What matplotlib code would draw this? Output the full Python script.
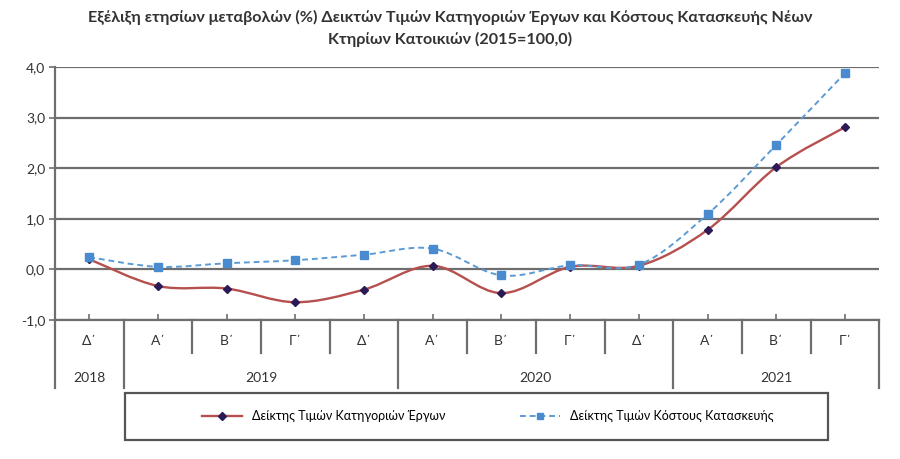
import numpy as np
import matplotlib
matplotlib.use("Agg")
import matplotlib.pyplot as plt
from matplotlib.path import Path
from matplotlib.patches import PathPatch, Rectangle
from matplotlib.lines import Line2D
import matplotlib.transforms as mtransforms

# data
quarters = ["Δ΄", "Α΄", "Β΄", "Γ΄", "Δ΄", "Α΄", "Β΄", "Γ΄", "Δ΄", "Α΄", "Β΄", "Γ΄"]
years = ["2018", "2019", "2020", "2021"]
year_spans = [(0, 1), (1, 5), (5, 9), (9, 12)]   # category index ranges per year
works_index = [0.20, -0.33, -0.38, -0.65, -0.40, 0.07, -0.47, 0.05, 0.07, 0.78, 2.02, 2.81]
cost_index = [0.24, 0.05, 0.12, 0.18, 0.29, 0.41, -0.12, 0.08, 0.09, 1.09, 2.46, 3.88]
yticks = [-1.0, 0.0, 1.0, 2.0, 3.0, 4.0]
ytick_labels = ["-1,0", "0,0", "1,0", "2,0", "3,0", "4,0"]
label_works = "Δείκτης Τιμών Κατηγοριών Έργων"
label_cost = "Δείκτης Τιμών Κόστους Κατασκευής"
title = ("Εξέλιξη ετησίων μεταβολών (%) Δεικτών Τιμών Κατηγοριών Έργων και Κόστους Κατασκευής Νέων\n"
         "Κτηρίων Κατοικιών (2015=100,0)")

plt.rcParams['font.family'] = ['Lato', 'DejaVu Sans']

RED = "#b5504e"
NAVY = "#2b1a55"
BLUE = "#5b9bd5"
BLUE_M = "#4a8bd0"
GRID = "#6e6e6e"


def smooth_path(x, y):
    # Excel-style smoothed line: Catmull-Rom segments as cubic Beziers
    pts = np.column_stack([x, y]).astype(float)
    n = len(pts)
    verts = [pts[0]]
    codes = [Path.MOVETO]
    for i in range(n - 1):
        p0 = pts[max(i - 1, 0)]
        p1 = pts[i]
        p2 = pts[i + 1]
        p3 = pts[min(i + 2, n - 1)]
        c1 = p1 + (p2 - p0) / 6.0
        c2 = p2 - (p3 - p1) / 6.0
        verts += [c1, c2, p2]
        codes += [Path.CURVE4] * 3
    return Path(verts, codes)


fig = plt.figure(figsize=(9, 4.59), dpi=100)
ax = fig.add_axes([0.061, 0.303, 0.916, 0.551])

x = np.arange(len(quarters))

ax.add_patch(PathPatch(smooth_path(x, works_index), facecolor="none",
                       edgecolor=RED, lw=1.7, zorder=3))
ax.plot(x, works_index, ls="none", marker="D", ms=4.5, color=NAVY, zorder=4)

ax.add_patch(PathPatch(smooth_path(x, cost_index), facecolor="none",
                       edgecolor=BLUE, lw=1.4, ls=(0, (3, 2)), zorder=3))
ax.plot(x, cost_index, ls="none", marker="s", ms=6, color=BLUE_M, zorder=4)

ax.set_xlim(-0.5, len(quarters) - 0.5)
ax.set_ylim(-1.0, 4.0)
ax.set_yticks(yticks)
ax.set_yticklabels(ytick_labels, fontsize=10, color="#333333")
ax.yaxis.grid(True, color=GRID, lw=1.6)
ax.set_axisbelow(True)
for s in ["top", "right"]:
    ax.spines[s].set_visible(False)
ax.spines["left"].set_color(GRID)
ax.spines["left"].set_linewidth(1.6)
ax.spines["bottom"].set_color(GRID)
ax.spines["bottom"].set_linewidth(1.6)
ax.tick_params(axis="y", length=4, color=GRID, width=1.2, pad=3)

# small upward ticks at category centres on the bottom axis
ax.set_xticks(x)
ax.set_xticklabels([])
ax.tick_params(axis="x", direction="in", length=4, color=GRID, width=1.2)

# multi-level category axis
trans = mtransforms.blended_transform_factory(ax.transData, ax.transAxes)
for i, q in enumerate(quarters):
    ax.text(i, -0.082, q, transform=trans, ha="center", va="center",
            fontsize=10, color="#333333")
year_edges = set()
for (a, b) in year_spans:
    year_edges.add(a)
    year_edges.add(b)
for k in range(len(quarters) + 1):
    bottom = -0.27 if k in year_edges else -0.13
    ax.add_line(Line2D([k - 0.5, k - 0.5], [0, bottom], transform=trans,
                       color=GRID, lw=1.6, clip_on=False))
for yr, (a, b) in zip(years, year_spans):
    ax.text((a + b - 1) / 2.0, -0.23, yr, transform=trans, ha="center",
            va="center", fontsize=10, color="#333333")

fig.text(0.5, 0.938, title, ha="center", va="center", fontsize=11.6,
         fontweight="bold", color="#333333", linespacing=1.65)

# legend box
fig.patches.append(Rectangle((125 / 900, 1 - 440 / 459), 703 / 900, 47 / 459,
                             transform=fig.transFigure, facecolor="white",
                             edgecolor="#555555", lw=1.6))
h1 = Line2D([], [], color=RED, lw=1.7, marker="D", ms=4.5, mfc=NAVY, mec=NAVY)
h2 = Line2D([], [], color=BLUE, lw=1.4, ls=(0, (3, 2)), marker="s", ms=5,
            mfc=BLUE_M, mec=BLUE_M)
fig.legend([h1, h2], [label_works, label_cost], loc="center",
           bbox_to_anchor=(488 / 900, 1 - 416 / 459), ncol=2, frameon=False,
           fontsize=9, handlelength=3.2, columnspacing=6.0)

fig.savefig("out.png", dpi=100)
